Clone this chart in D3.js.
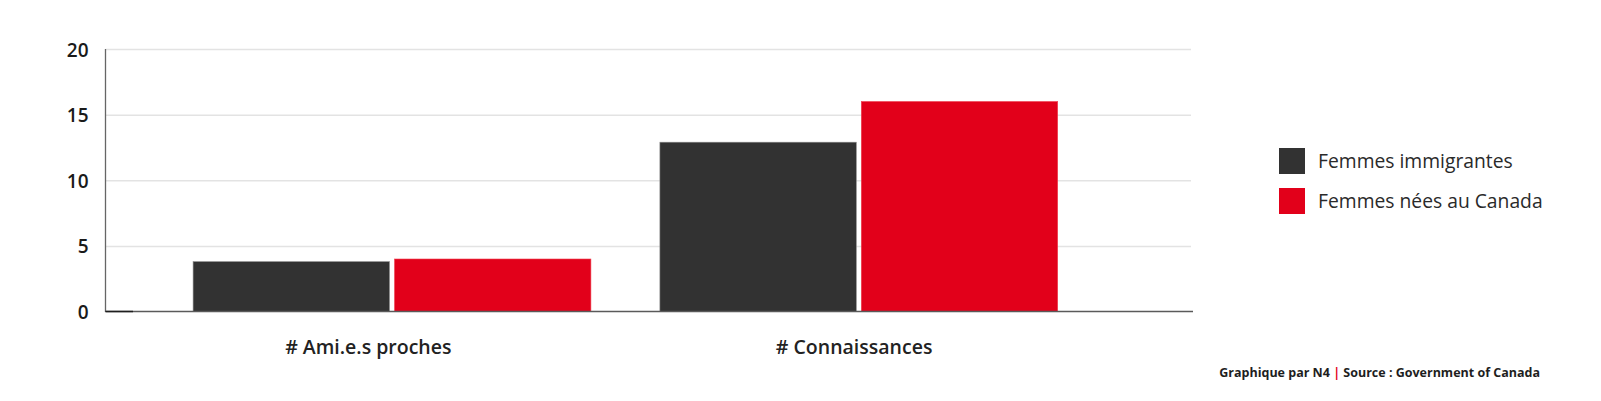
<!DOCTYPE html>
<html><head><meta charset="utf-8">
<script src="https://cdn.jsdelivr.net/npm/d3@7"></script>
<style>
html,body{margin:0;padding:0;background:#fff;}
svg{display:block;font-family:"Open Sans",sans-serif;}
</style></head>
<body>
<svg id="chart" width="1601" height="401"></svg>
<script>
const categories = ["# Ami.e.s proches", "# Connaissances"];
const seriesNames = ["Femmes immigrantes", "Femmes nées au Canada"];
const immigrantes = [3.8, 12.9];
const neesCanada = [4.0, 16.0];
const yTicks = [0, 5, 10, 15, 20];
const colors = ["#323232", "#e2001a"];
const footerParts = ["Graphique par N4 ", "|", " Source : Government of Canada"];

const svg = d3.select("#chart");
const plotLeft = 105.5, plotRight = 1193, plotTop = 49, plotBottom = 311.5;

const y = d3.scaleLinear().domain([0, 20]).range([plotBottom, plotTop]);
const xBars = d3.scaleBand().domain(categories).range([158.6, 1092.2]).paddingInner(0).paddingOuter(0);
const xLabels = d3.scaleBand().domain(categories).range([125.4, 1097]);
const innerW = 196.4, gap = 5;
const groupW = innerW * 2 + gap;

// gridlines
const yAxis = d3.axisLeft(y).tickValues(yTicks).tickSize(-(1191 - plotLeft)).tickFormat(d3.format("d"));
const gy = svg.append("g").attr("transform", `translate(${plotLeft},0)`).call(yAxis);
gy.select(".domain").remove();
gy.selectAll(".tick line").attr("stroke", "#e3e3e3").attr("stroke-width", 1.5);
gy.selectAll(".tick text").attr("x", -17).attr("dy", "0.37em")
  .attr("font-size", 19).attr("font-weight", 600).attr("fill", "#1a1a1a")
  .attr("font-family", "'Open Sans', sans-serif");
gy.selectAll(".tick").filter(d => d === 0).select("line").remove();

// bars
const data = categories.map((c, i) => ({ c, vals: [immigrantes[i], neesCanada[i]] }));
const groups = svg.append("g").selectAll("g").data(data).join("g")
  .attr("transform", d => `translate(${xBars(d.c) + (xBars.bandwidth() - groupW) / 2},0)`);
groups.selectAll("rect").data(d => d.vals.map((v, k) => ({ v, k }))).join("rect")
  .attr("x", d => d.k * (innerW + gap))
  .attr("width", innerW)
  .attr("y", d => y(d.v))
  .attr("height", d => y(0) - y(d.v))
  .attr("fill", d => colors[d.k])
  .attr("stroke", d => d.k === 0 ? "#8a8a8a" : "#f04050")
  .attr("stroke-width", 0.6);

// axes lines
svg.append("line").attr("x1", plotLeft).attr("x2", plotLeft).attr("y1", plotTop).attr("y2", plotBottom + 0.5)
  .attr("stroke", "#666").attr("stroke-width", 1.3);
svg.append("line").attr("x1", plotLeft).attr("x2", plotRight).attr("y1", plotBottom).attr("y2", plotBottom)
  .attr("stroke", "#5a5a5a").attr("stroke-width", 1.5);
svg.append("line").attr("x1", plotLeft).attr("x2", 133).attr("y1", plotBottom).attr("y2", plotBottom)
  .attr("stroke", "#1e1e1e").attr("stroke-width", 1.5);

// category labels
const xAxis = d3.axisBottom(xLabels).tickSize(0);
const gx = svg.append("g").attr("transform", `translate(0,${plotBottom})`).call(xAxis);
gx.select(".domain").remove();
gx.selectAll(".tick text").attr("y", 0).attr("dy", "42")
  .attr("font-size", 19.5).attr("font-weight", 600).attr("fill", "#222")
  .attr("font-family", "'Open Sans', sans-serif");

// legend
const lg = svg.append("g").attr("transform", "translate(1279,148)");
const items = lg.selectAll("g").data(seriesNames).join("g")
  .attr("transform", (d, i) => `translate(0,${i * 40})`);
items.append("rect").attr("width", 26).attr("height", 26).attr("fill", (d, i) => colors[i]);
items.append("text").attr("x", 39).attr("y", 20).text(d => d)
  .attr("font-size", 19.3).attr("fill", "#2a2a2a").attr("font-family", "'Open Sans', sans-serif");

// footer
const ft = svg.append("text").attr("x", 1540).attr("y", 377).attr("text-anchor", "end")
  .attr("font-size", 12.5).attr("font-weight", 700).attr("fill", "#1e1e1e")
  .attr("font-family", "'Open Sans', sans-serif");
ft.selectAll("tspan").data(footerParts).join("tspan").text(d => d)
  .attr("fill", d => d === "|" ? "#e2001a" : "#1e1e1e");
</script>
</body></html>
